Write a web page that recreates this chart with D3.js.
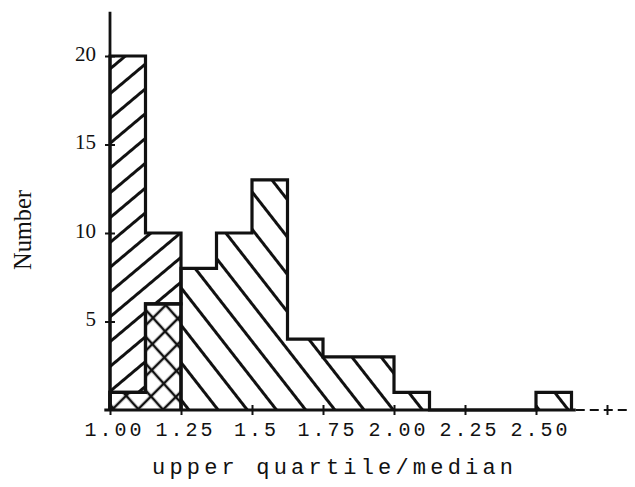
<!DOCTYPE html>
<html>
<head>
<meta charset="utf-8">
<script src="https://cdn.jsdelivr.net/npm/d3@7"></script>
<style>
  body { margin: 0; background: #fff; }
  text { font-family: "Liberation Mono", "DejaVu Sans Mono", monospace; fill: #111; }
</style>
</head>
<body>
<div class="chart-wrapper"></div>
<script>
// bins of width 0.125, left edges
const binWidth = 0.125
const edgesA = [1.000, 1.125]
const countsA = [20, 10]
const edgesB = [1.000, 1.125, 1.250, 1.375, 1.500, 1.625, 1.750, 1.875, 2.000, 2.125, 2.250, 2.375, 2.500]
const countsB = [1, 6, 8, 10, 13, 4, 3, 3, 1, 0, 0, 0, 1]

const xTickVals = [1.00, 1.25, 1.5, 1.75, 2.00, 2.25, 2.50, 2.75]
const xTickLabels = ['1.00', '1.25', '1.5', '1.75', '2.00', '2.25', '2.50', '']
const yTickVals = [5, 10, 15, 20]

const width = 635
const height = 487

const svg = d3.select('.chart-wrapper')
    .append('svg')
    .attr('width', width)
    .attr('height', height)

const x = d3.scaleLinear().domain([1, 2.75]).range([110, 607])
const y = d3.scaleLinear().domain([0, 20]).range([410, 56])

// hatch patterns
const defs = svg.append('defs')

const hatch = (id, gap, angles, sw) => {
    angles.forEach((angle, k) => {
        const p = defs.append('pattern')
            .attr('id', id + k)
            .attr('patternUnits', 'userSpaceOnUse')
            .attr('width', 40)
            .attr('height', gap)
            .attr('patternTransform', `rotate(${angle})`)
        p.append('line')
            .attr('x1', -5).attr('x2', 45)
            .attr('y1', gap / 2).attr('y2', gap / 2)
            .attr('stroke', '#111')
            .attr('stroke-width', sw)
    })
}
hatch('slash', 19, [-40], 2.8)
hatch('backslash', 23, [52], 2.8)
hatch('cross', 18, [-45, 48], 2.5)

const stepPoints = (edges, counts) => {
    const pts = [[edges[0], 0]]
    edges.forEach((e, i) => pts.push([e, counts[i]]))
    const last = edges.length - 1
    pts.push([edges[last] + binWidth, counts[last]])
    pts.push([edges[last] + binWidth, 0])
    return pts
}

const line = d3.line()
    .x(d => x(d[0]))
    .y(d => y(d[1]))
    .curve(d3.curveStepAfter)

// where the two histograms overlap
const countsOverlap = edgesA.map((e, i) => Math.min(countsA[i], countsB[edgesB.indexOf(e)]))

const groups = [
    { pts: stepPoints(edgesB, countsB), fills: ['url(#backslash0)'] },
    { pts: stepPoints(edgesA, countsA), fills: ['url(#slash0)'] },
    { pts: stepPoints(edgesA, countsOverlap), fills: ['#fff', 'url(#cross0)', 'url(#cross1)'] }
]

groups.forEach(g => {
    g.fills.forEach(f => {
        svg.append('path')
            .attr('class', 'hist-fill')
            .attr('d', line(g.pts))
            .attr('fill', f)
            .attr('stroke', 'none')
    })
})

svg.selectAll('path.hist-line')
    .data(groups)
    .enter().append('path')
    .attr('class', 'hist-line')
    .attr('d', d => line(d.pts))
    .attr('fill', 'none')
    .attr('stroke', '#111')
    .attr('stroke-width', 3.2)
    .attr('stroke-linejoin', 'miter')

// axis lines
svg.append('line')
    .attr('x1', x(1)).attr('x2', x(1))
    .attr('y1', y(0)).attr('y2', y(22.5))
    .attr('stroke', '#111').attr('stroke-width', 2.8)

svg.append('line')
    .attr('x1', x(0.98)).attr('x2', x(2.64))
    .attr('y1', y(0)).attr('y2', y(0))
    .attr('stroke', '#111').attr('stroke-width', 2.8)

svg.append('line')
    .attr('x1', x(2.64)).attr('x2', x(2.83))
    .attr('y1', y(0)).attr('y2', y(0))
    .attr('stroke', '#111').attr('stroke-width', 2)
    .attr('stroke-dasharray', '9,5')

const xAxis = svg.append('g')
    .attr('transform', `translate(0,${y(0)})`)
    .call(d3.axisBottom(x)
        .tickValues(xTickVals)
        .tickFormat((d, i) => xTickLabels[i])
        .tickSize(5)
        .tickPadding(7))

xAxis.select('.domain').remove()
xAxis.selectAll('.tick line')
    .attr('y1', -5)
    .attr('stroke', '#111')
    .attr('stroke-width', 2)
xAxis.selectAll('.tick text')
    .attr('dx', 4)
    .style('font-family', '"Liberation Mono", monospace')
    .style('font-size', '20px')
    .style('letter-spacing', '3px')
    .attr('fill', '#111')

const yAxis = svg.append('g')
    .attr('transform', `translate(${x(1)},0)`)
    .call(d3.axisLeft(y)
        .tickValues(yTickVals)
        .tickSize(5)
        .tickPadding(9))

yAxis.select('.domain').remove()
yAxis.selectAll('.tick line')
    .attr('x1', 5)
    .attr('stroke', '#111')
    .attr('stroke-width', 2)
yAxis.selectAll('.tick text')
    .attr('dy', '0.2em')
    .style('font-family', '"Liberation Serif", serif')
    .style('font-size', '21px')
    .attr('fill', '#111')

// axis titles
svg.append('text')
    .attr('x', 152)
    .attr('y', 474)
    .attr('textLength', 361)
    .attr('lengthAdjust', 'spacing')
    .style('font-size', '22px')
    .text('upper quartile/median')

svg.append('text')
    .attr('transform', 'translate(31,230) rotate(-90)')
    .attr('text-anchor', 'middle')
    .attr('textLength', 80)
    .attr('lengthAdjust', 'spacingAndGlyphs')
    .style('font-family', '"Liberation Serif", serif')
    .style('font-size', '25px')
    .text('Number')
</script>
</body>
</html>
